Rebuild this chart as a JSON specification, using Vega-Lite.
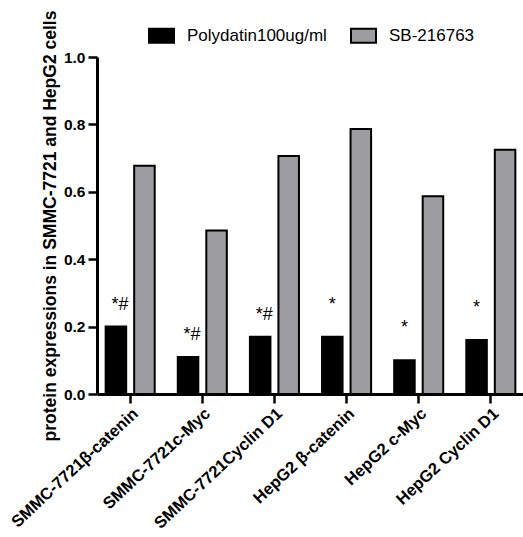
{
  "$schema": "https://vega.github.io/schema/vega-lite/v6.json",
  "autosize": {"type": "none"},
  "padding": {"left": 97, "top": 57, "right": 0, "bottom": 143},
  "width": 427,
  "height": 337,
  "background": "white",
  "config": {
    "view": {"stroke": null},
    "font": "Liberation Sans",
    "axis": {"grid": false}
  },
  "data": {
    "values": [
      {"target": "SMMC-7721β-catenin", "group": "Polydatin100ug/ml", "value": 0.2, "sig": "*#"},
      {"target": "SMMC-7721β-catenin", "group": "SB-216763", "value": 0.677, "sig": ""},
      {"target": "SMMC-7721c-Myc", "group": "Polydatin100ug/ml", "value": 0.11, "sig": "*#"},
      {"target": "SMMC-7721c-Myc", "group": "SB-216763", "value": 0.485, "sig": ""},
      {"target": "SMMC-7721Cyclin D1", "group": "Polydatin100ug/ml", "value": 0.17, "sig": "*#"},
      {"target": "SMMC-7721Cyclin D1", "group": "SB-216763", "value": 0.706, "sig": ""},
      {"target": "HepG2 β-catenin", "group": "Polydatin100ug/ml", "value": 0.17, "sig": "*"},
      {"target": "HepG2 β-catenin", "group": "SB-216763", "value": 0.786, "sig": ""},
      {"target": "HepG2 c-Myc", "group": "Polydatin100ug/ml", "value": 0.1, "sig": "*"},
      {"target": "HepG2 c-Myc", "group": "SB-216763", "value": 0.587, "sig": ""},
      {"target": "HepG2 Cyclin D1", "group": "Polydatin100ug/ml", "value": 0.16, "sig": "*"},
      {"target": "HepG2 Cyclin D1", "group": "SB-216763", "value": 0.725, "sig": ""}
    ]
  },
  "encoding": {
    "x": {
      "field": "target",
      "type": "nominal",
      "sort": null,
      "scale": {"paddingInner": 0.32, "paddingOuter": 0.12},
      "axis": {
        "title": null,
        "labelAngle": -43,
        "labelFontSize": 16.5,
        "labelFontWeight": "bold",
        "labelColor": "black",
        "labelPadding": 2,
        "tickSize": 9,
        "tickWidth": 2.5,
        "tickColor": "black",
        "domainColor": "black",
        "domainWidth": 3
      }
    },
    "xOffset": {
      "field": "group",
      "type": "nominal",
      "sort": ["Polydatin100ug/ml", "SB-216763"],
      "scale": {"paddingInner": 0.28, "paddingOuter": 0}
    },
    "y": {
      "field": "value",
      "type": "quantitative",
      "scale": {"domain": [0, 1], "nice": false},
      "axis": {
        "title": "protein expressions in  SMMC-7721 and HepG2 cells",
        "values": [0, 0.2, 0.4, 0.6, 0.8, 1.0],
        "format": ".1f",
        "labelFontSize": 15.5,
        "labelFontWeight": "bold",
        "labelColor": "black",
        "labelPadding": 3,
        "tickSize": 9,
        "tickWidth": 2.5,
        "tickColor": "black",
        "domainColor": "black",
        "domainWidth": 3,
        "titleFontSize": 17.5,
        "titleFontWeight": "bold",
        "titleColor": "black",
        "titlePadding": 4
      }
    }
  },
  "layer": [
    {
      "mark": {"type": "bar", "stroke": "black", "strokeWidth": 2},
      "encoding": {
        "color": {
          "field": "group",
          "type": "nominal",
          "scale": {"domain": ["Polydatin100ug/ml", "SB-216763"], "range": ["#000000", "#9d9ca1"]},
          "legend": {
            "title": null,
            "orient": "none",
            "direction": "horizontal",
            "legendX": 51,
            "legendY": -35,
            "padding": 0,
            "symbolType": "M-1,-0.56H1V0.56H-1Z",
            "symbolSize": 625,
            "symbolStrokeColor": "black",
            "symbolStrokeWidth": 2,
            "labelFontSize": 17,
            "labelColor": "black",
            "labelOffset": 12,
            "columnPadding": 20
          }
        }
      }
    },
    {
      "transform": [{"filter": "datum.sig === '*#'"}],
      "mark": {"type": "text", "dy": -17, "dx": 4, "fontSize": 18, "baseline": "alphabetic", "color": "black"},
      "encoding": {"text": {"field": "sig"}}
    },
    {
      "transform": [{"filter": "datum.sig === '*'"}],
      "mark": {"type": "text", "dy": -27, "fontSize": 18, "baseline": "alphabetic", "color": "black"},
      "encoding": {"text": {"field": "sig"}}
    }
  ]
}
